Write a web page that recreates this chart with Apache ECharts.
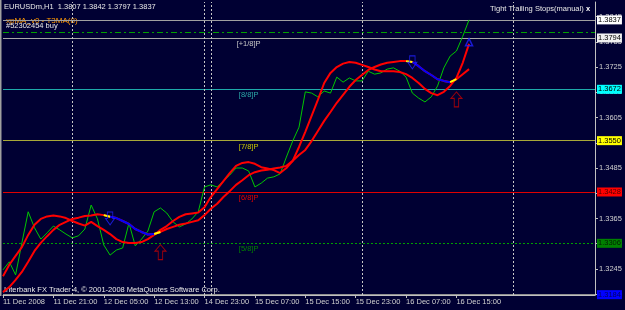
<!DOCTYPE html>
<html>
<head>
<meta charset="utf-8">
<script src="https://cdn.jsdelivr.net/npm/echarts@6/dist/echarts.min.js"></script>
<style>
  html, body { margin: 0; padding: 0; background: #000033; }
  #chart { width: 625px; height: 310px; }
</style>
</head>
<body>
<div id="chart"></div>
<script>
// H1 bars, one label every 8 bars
const timeLabels = ["11 Dec 2008", "11 Dec 21:00", "12 Dec 05:00", "12 Dec 13:00", "14 Dec 23:00",
  "15 Dec 07:00", "15 Dec 15:00", "15 Dec 23:00", "16 Dec 07:00", "16 Dec 15:00"];
const barsPerLabel = 8;
const totalBars = 95; // includes empty space to the right
const daySeparators = [11, 32, 33, 57, 81];

const closePrice = [1.3243, 1.3262, 1.3231, 1.3307, 1.3381, 1.3343, 1.3316, 1.3331, 1.3347, 1.3338,
  1.3328, 1.3319, 1.3324, 1.3340, 1.3397, 1.3364, 1.3302, 1.3278, 1.3290, 1.3295,
  1.3354, 1.3300, 1.3316, 1.3335, 1.3381, 1.3390, 1.3378, 1.3357, 1.3345, 1.3352,
  1.3364, 1.3381, 1.3440, 1.3445, 1.3440, 1.3454, 1.3468, 1.3485, 1.3485, 1.3478,
  1.3440, 1.3449, 1.3461, 1.3464, 1.3471, 1.3511, 1.3549, 1.3582, 1.3666, 1.3663,
  1.3654, 1.3668, 1.3663, 1.3701, 1.3689, 1.3699, 1.3692, 1.3692, 1.3715, 1.3708,
  1.3711, 1.3720, 1.3723, 1.3715, 1.3701, 1.3663, 1.3651, 1.3642, 1.3654, 1.3680,
  1.3723, 1.3751, 1.3763, 1.3798, 1.3837];

const fastMA = [1.3228, 1.3255, 1.3276, 1.3297, 1.3326, 1.3350, 1.3364, 1.3370, 1.3372, 1.3370,
  1.3366, 1.3359, 1.3353, 1.3348, 1.3357, 1.3347, 1.3338, 1.3328, 1.3316, 1.3309,
  1.3307, 1.3307, 1.3309, 1.3316, 1.3326, 1.3338, 1.3347, 1.3359, 1.3369, 1.3375,
  1.3377, 1.3379, 1.3392, 1.3416, 1.3435, 1.3454, 1.3473, 1.3490, 1.3497, 1.3499,
  1.3495, 1.3487, 1.3484, 1.3480, 1.3473, 1.3485, 1.3502, 1.3535, 1.3571, 1.3609,
  1.3647, 1.3687, 1.3711, 1.3725, 1.3733, 1.3737, 1.3735, 1.3730, 1.3725, 1.3719,
  1.3715, 1.3715, 1.3715, 1.3713, 1.3708, 1.3699, 1.3687, 1.3673, 1.3663, 1.3658,
  1.3666, 1.3680, 1.3699, 1.3735, 1.3780];

const slowMA = [1.3190, 1.3202, 1.3219, 1.3238, 1.3262, 1.3288, 1.3307, 1.3323, 1.3338, 1.3350,
  1.3357, 1.3364, 1.3367, 1.3371, 1.3372, 1.3375, 1.3373, 1.3369, 1.3366, 1.3359,
  1.3352, 1.3340, 1.3333, 1.3327, 1.3328, 1.3333, 1.3340, 1.3345, 1.3350, 1.3353,
  1.3357, 1.3361, 1.3373, 1.3388, 1.3400, 1.3416, 1.3430, 1.3445, 1.3456, 1.3468,
  1.3475, 1.3479, 1.3481, 1.3484, 1.3486, 1.3490, 1.3502, 1.3516, 1.3528, 1.3549,
  1.3573, 1.3597, 1.3618, 1.3640, 1.3659, 1.3678, 1.3694, 1.3706, 1.3718, 1.3725,
  1.3731, 1.3735, 1.3737, 1.3739, 1.3739, 1.3737, 1.3727, 1.3715, 1.3706, 1.3696,
  1.3692, 1.3689, 1.3696, 1.3708, 1.3720];

// falling stretches of the slow MA (drawn blue), with yellow joints
const downRanges = [[17, 24], [65, 71]];

const upArrows = [[25, 1.3285], [72, 1.3648]];
const downArrows = [[17, 1.3365], [65, 1.3736]];
const stopMarks = [[74, 1.3784]];

const yTicks = [1.3185, 1.3245, 1.3305, 1.3365, 1.3425, 1.3485, 1.3545, 1.3605, 1.3665, 1.3725, 1.3785, 1.3845];

const bidPrice = 1.3837;
const orderPrice = 1.3807;
const murreyLevels = [1.3794, 1.3672, 1.3550, 1.3428, 1.3306, 1.3184];
const murreyNames = ["[+1/8]P", "[8/8]P", "[7/8]P", "[6/8]P", "[5/8]P", ""];
const murreyColors = ["#a8a8a8", "#1eaaaa", "#a8a838", "#e00000", "#00a000", "#909090"];
const murreyTextColors = ["#c8c8c8", "#2aa8a8", "#c8c800", "#e00000", "#008000", "#0000ff"];
const murreyBoxColors = ["#f0f0f0", "#00ffff", "#ffff00", "#ff0000", "#008000", "#0000ff"];
const murreyBoxText = ["#000000", "#000000", "#000000", "#500000", "#002000", "#000060"];

const FONT = "Liberation Sans";
const AXIS_COLOR = "#c0c0c0";

const categories = Array.from({ length: totalBars }, (_, i) => String(i));
const showTime = i => i % barsPerLabel === 0 && i / barsPerLabel < timeLabels.length;

function inRanges(ranges, i) {
  return ranges.some(([a, b]) => i >= a && i <= b);
}
const blueData = slowMA.map((v, i) => (inRanges(downRanges, i) ? v : null));
const yellowRanges = downRanges.flatMap(([a, b]) => [[a - 1, a], [b, b + 1]]);
const yellowData = slowMA.map((v, i) => (inRanges(yellowRanges, i) ? v : null));

function maSeries(name, data, color) {
  return {
    name, type: "line", data, showSymbol: false, symbol: "none",
    lineStyle: { color, width: 2 }, z: 4, connectNulls: false
  };
}

function boxLabel(text, bg, fg) {
  return { show: true, position: "end", distance: 2, formatter: text, backgroundColor: bg, color: fg,
    fontSize: 7.5, fontFamily: FONT, padding: [1, 1, 0, 1] };
}

const levelLines = [
  { yAxis: bidPrice, lineStyle: { color: "#a0a0a0", width: 1, type: "solid" },
    label: boxLabel(bidPrice.toFixed(4), "#ffffff", "#000000") },
  { yAxis: orderPrice, lineStyle: { color: "#00a000", width: 1, type: [6, 3, 2, 3] }, label: { show: false } }
].concat(murreyLevels.map((lv, k) => ({
  yAxis: lv,
  lineStyle: { color: murreyColors[k], width: 1, type: k === 4 ? [2, 2] : "solid" },
  label: boxLabel(lv.toFixed(4), murreyBoxColors[k], murreyBoxText[k])
})));

const separatorLines = daySeparators.map(i => ({
  xAxis: i, lineStyle: { color: "#c8c8c8", width: 1, type: [2, 2] }, label: { show: false }
}));

const murreyTags = murreyLevels.map((lv, k) => ({
  coord: [39, lv], symbol: "circle", symbolSize: 0,
  label: { show: true, formatter: murreyNames[k], color: murreyTextColors[k], fontSize: 7.5,
    fontFamily: FONT, offset: [0, 6] }
})).filter((_, k) => murreyNames[k] !== "");

const option = {
  animation: false,
  backgroundColor: "#000033",
  textStyle: { fontFamily: FONT },
  grid: { left: 3, right: 30, top: 2, bottom: 15 },
  xAxis: {
    type: "category", data: categories, boundaryGap: false,
    axisLine: { lineStyle: { color: AXIS_COLOR, width: 1 } },
    axisTick: { show: true, interval: showTime, length: 3, lineStyle: { color: AXIS_COLOR } },
    axisLabel: {
      interval: showTime, formatter: (v, i) => timeLabels[i / barsPerLabel] || "",
      align: "left", color: "#d0d0d0", fontSize: 7.5, fontFamily: FONT, margin: 3, hideOverlap: false
    },
    splitLine: { show: false }
  },
  yAxis: {
    type: "value", position: "right", min: 1.31832, max: 1.38795,
    axisLine: { show: true, lineStyle: { color: AXIS_COLOR, width: 1 } },
    axisTick: { show: true, customValues: yTicks, length: 3, lineStyle: { color: AXIS_COLOR } },
    axisLabel: { customValues: yTicks, formatter: v => v.toFixed(4), color: "#d0d0d0",
      fontSize: 7.5, fontFamily: FONT, margin: 4 },
    splitLine: { show: false }
  },
  series: [
    {
      name: "Close", type: "line", data: closePrice, showSymbol: false, symbol: "none",
      lineStyle: { color: "#00c800", width: 1 }, z: 3, clip: false,
      markLine: { silent: true, symbol: "none", animation: false, precision: 4, z: 1,
        data: levelLines.concat(separatorLines) },
      markPoint: { silent: true, animation: false, data: murreyTags }
    },
    maSeries("T3MA slow", slowMA, "#ff0000"),
    maSeries("T3MA fast", fastMA, "#ff0000"),
    maSeries("T3MA down", blueData, "#0000ff"),
    maSeries("T3MA turn", yellowData, "#ffff00"),
    {
      name: "Buy", type: "scatter", data: upArrows, z: 6,
      symbol: "path://M5,0 L10,6 L7,6 L7,14 L3,14 L3,6 L0,6 Z", symbolSize: [11, 15],
      itemStyle: { color: "rgba(0,0,0,0)", borderColor: "#c80000", borderWidth: 1 }
    },
    {
      name: "Sell", type: "scatter", data: downArrows, z: 6,
      symbol: "path://M2,0 L8,0 L8,7 L10,7 L5,14 L0,7 L2,7 Z", symbolSize: [9, 13],
      itemStyle: { color: "rgba(0,0,0,0)", borderColor: "#2020ff", borderWidth: 1 }
    },
    {
      name: "Stop", type: "scatter", data: stopMarks, z: 6,
      symbol: "path://M5,0 L10,9 L0,9 Z", symbolSize: [7, 7],
      itemStyle: { color: "rgba(0,0,0,0)", borderColor: "#2020ff", borderWidth: 1.5 }
    }
  ],
  graphic: [
    { type: "text", left: 4, top: 3, style: { text: "EURUSDm,H1  1.3807 1.3842 1.3797 1.3837",
      fill: "#e8e8e8", font: "7.5px " + FONT } },
    { type: "text", left: 6, top: 17, style: { text: "xpMA_v0 - T3MA(8)", fill: "#ff9900", font: "8px " + FONT } },
    { type: "text", left: 6, top: 22, style: { text: "#52302454 buy", fill: "#e8e8e8", font: "7.5px " + FONT } },
    { type: "text", left: 490, top: 5, style: { text: "Tight Trailing Stops(manual)", fill: "#e8e8e8", font: "7.5px " + FONT } },
    { type: "text", left: 586, top: 5, style: { text: "x", fill: "#ffffff", font: "bold 7.5px " + FONT } },
    { type: "text", left: 4, top: 286, style: { text: "Interbank FX Trader 4, \u00a9 2001-2008 MetaQuotes Software Corp.",
      fill: "#e8e8e8", font: "7.5px " + FONT } },
    { type: "rect", left: 0, top: 0, shape: { width: 1.5, height: 296 }, style: { fill: "#a0a0a0" } }
  ]
};

const chart = echarts.init(document.getElementById("chart"));
chart.setOption(option);
</script>
</body>
</html>
